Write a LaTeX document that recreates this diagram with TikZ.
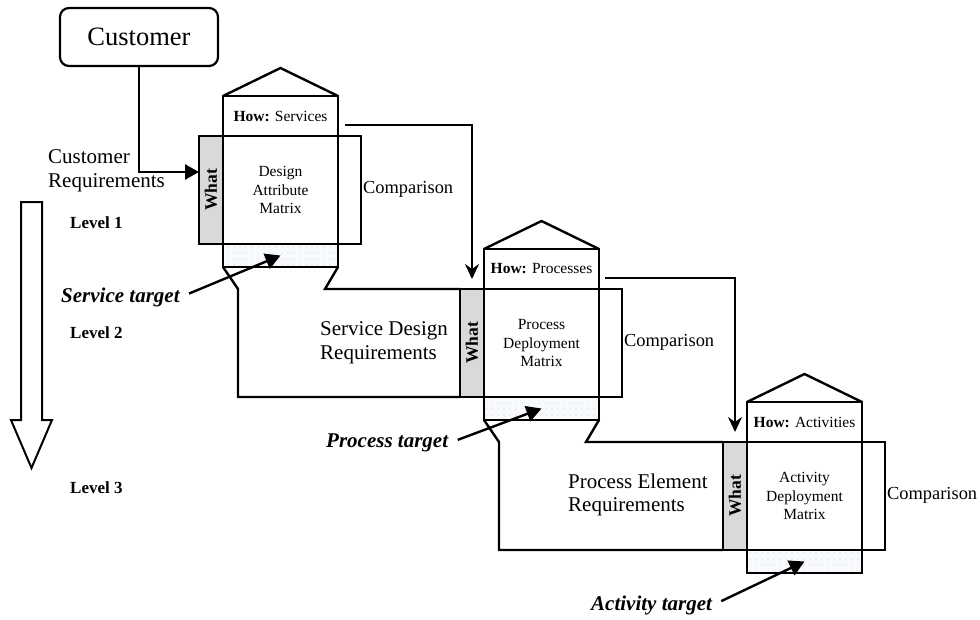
\documentclass[tikz,border=0pt]{standalone}
\usepackage{fontspec}
\setmainfont{Liberation Serif}
\usetikzlibrary{arrows.meta,patterns.meta,calc}
\definecolor{whatgray}{RGB}{217,217,217}
\definecolor{dotblue}{RGB}{192,205,224}
\definecolor{tinted}{RGB}{248,250,253}

\tikzset{
  ln/.style={line width=2.4pt},
  cell/.style={draw, line width=2.2pt, rectangle, inner sep=0pt, outer sep=0pt, anchor=north west},
  howbox/.style={cell, minimum width=115pt, minimum height=40pt, font=\fontsize{15.5}{18}\selectfont},
  matbox/.style={cell, minimum width=115pt, minimum height=108pt, align=center, font=\fontsize{15.5}{18.5}\selectfont},
  whatbox/.style={cell, anchor=north east, fill=whatgray, minimum width=24pt, minimum height=108pt},
  cmpbox/.style={cell, minimum width=23pt, minimum height=108pt},
  tgtbox/.style={cell, minimum width=115pt, minimum height=23pt, preaction={fill=tinted},
    pattern={Dots[distance=6pt,radius=0.7pt]}, pattern color=dotblue},
  whattxt/.style={rotate=90, inner sep=0pt, font=\bfseries\fontsize{17.5}{20}\selectfont},
  cmptxt/.style={anchor=west, inner sep=1pt, font=\fontsize{18.4}{21}\selectfont},
  reqtxt/.style={anchor=west, inner sep=1pt, align=left, font=\fontsize{21}{23.5}\selectfont},
  lvltxt/.style={anchor=west, inner sep=1pt, font=\bfseries\fontsize{17}{20}\selectfont},
  tgttxt/.style={anchor=west, inner sep=1pt, font=\bfseries\itshape\fontsize{21}{24}\selectfont},
  custbox/.style={draw, line width=2.2pt, rounded corners=9pt, minimum width=158pt,
    minimum height=58pt, inner sep=0pt, font=\fontsize{26.5}{30}\selectfont},
  flow/.style={ln, -{Stealth[length=15pt,width=14pt,inset=5pt]}, shorten >=10pt},
  feed/.style={ln, -{Triangle[length=14pt,width=15pt]}},
  pointer/.style={ln, -{Triangle[length=15pt,width=16pt]}, shorten <=9pt},
}

% one house of quality: matrix, roof, what column, comparison column, target row
\newcommand\qfdlevel[5]{%
  \node[matbox] (mat#1) at (#2,#3) {#5};
  \node[howbox, anchor=south west] (how#1) at (mat#1.north west) {\textbf{How:} #4};
  \draw[ln] (how#1.north west) -- ++(57.5,-28) -- (how#1.north east);
  \node[whatbox] (what#1) at (mat#1.north west) {};
  \node[whattxt] (wt#1) at (what#1.center) {What};
  \node[cmpbox] (cmp#1) at (mat#1.north east) {};
  \node[cmptxt] (ct#1) at ($(cmp#1.east)+(1,-1)$) {Comparison};
  \node[tgtbox] (tg#1) at (mat#1.south west) {};
}

\begin{document}
\begin{tikzpicture}[x=1pt, y=-1pt]
\path[use as bounding box, fill=white] (0,0) rectangle (980,619);

% customer and the three levels
\node[custbox] (cust) at (139,37) {Customer};

\qfdlevel{1}{223}{136}{Services}{Design\\Attribute\\Matrix}
\qfdlevel{2}{484}{289}{Processes}{Process\\Deployment\\Matrix}
\qfdlevel{3}{747}{442}{Activities}{Activity\\Deployment\\Matrix}

% outlines carrying each level into the next
\draw[ln] (tg1.south west) -- ++(15,22) |- (what2.south west);
\draw[ln] (tg1.south east) -- ++(-13,22) -- (what2.north west);
\draw[ln] (tg2.south west) -- ++(15,22) |- (what3.south west);
\draw[ln] (tg2.south east) -- ++(-13,22) -- (what3.north west);

% requirement labels
\node[reqtxt] (req1) at (47,171) {Customer\\Requirements};
\node[reqtxt] (req2) at (319,343) {Service Design\\Requirements};
\node[reqtxt] (req3) at (567,495) {Process Element\\Requirements};

% level labels and the downward arrow
\node[lvltxt] (lv1) at (69,223) {Level 1};
\node[lvltxt] (lv2) at (69,333) {Level 2};
\node[lvltxt] (lv3) at (69,488) {Level 3};
\draw[line width=2pt] (21,202) -- (42,202) -- (42,420) -- (52,420) -- (31.5,468)
  -- (11,420) -- (21,420) -- cycle;

% targets
\node[tgttxt] (st) at (60,297) {Service target};
\node[tgttxt] (pt) at (325,443) {Process target};
\node[tgttxt] (at) at (590,605) {Activity target};
\draw[pointer] (st.east) -- (tg1.center);
\draw[pointer] (pt.east) -- (tg2.center);
\draw[pointer] (at.east) -- (tg3.center);

% flows between levels
\draw[feed] (cust.south) |- ($(what1.west)+(0,-18)$);
\draw[flow] ($(how1.east)+(7,9)$) -| (what2.north);
\draw[flow] ($(how2.east)+(6,9)$) -| (what3.north);
\end{tikzpicture}
\end{document}
